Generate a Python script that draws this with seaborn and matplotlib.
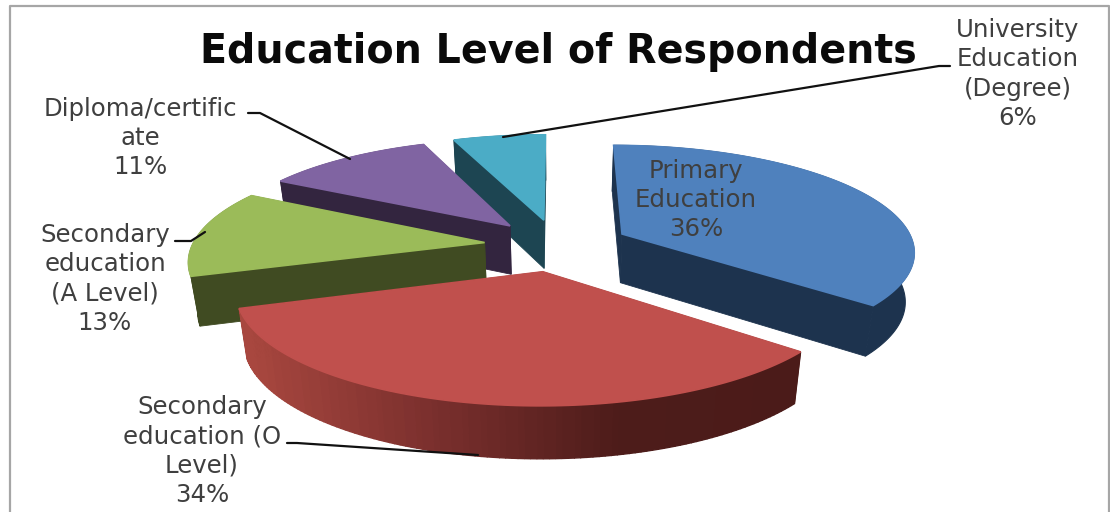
import numpy as np
import matplotlib
matplotlib.use("Agg")
import matplotlib.pyplot as plt
import seaborn as sns

# ---- data ----
categories = ["Primary\nEducation", "Secondary\neducation (O\nLevel)",
              "Secondary\neducation\n(A Level)", "Diploma/certific\nate",
              "University\nEducation\n(Degree)"]
shares = [36, 34, 13, 11, 6]
title = "Education Level of Respondents"

top_colors = ["#4f81bd", "#c0504d", "#9bbb59", "#8064a2", "#4bacc6"]
side_colors = ["#1d334e", "#4d1c1a", "#404b22", "#33253f", "#1d4552"]

# ---- 3-D pie view ----
CX, CY, RX, RY, PERSP = 557, 245, 292, 105, 0.15
EXPLODE, DEPTH, DEPTH_PERSP, SHRINK = 0.25, 49, 0.06, 0.975
DRAW_ORDER = [4, 3, 2, 0, 1]

sns.set_theme(style="white")
plt.rcParams["font.family"] = ["DejaVu Sans"]
fig = plt.figure(figsize=(11.1, 5.12), dpi=100)
ax = fig.add_axes([0, 0, 1, 1])
ax.set_xlim(0, 1110)
ax.set_ylim(512, 0)
ax.axis("off")


def project(gx, gy, low=False):
    w = 1 + PERSP * gy
    x = CX + RX * gx / w
    y = CY - RY * gy / w
    if low:
        x = CX + (x - CX) * SHRINK
        y = y + DEPTH / (1 + DEPTH_PERSP * gy)
    return x, y


def fill(gx, gy, color, low_mask=None, z=1, lw=1.0):
    xs, ys = [], []
    for i, (a, b) in enumerate(zip(gx, gy)):
        x, y = project(a, b, low=False if low_mask is None else low_mask[i])
        xs.append(x)
        ys.append(y)
    ax.fill(xs, ys, color=color, lw=lw, zorder=z)


edges = np.cumsum([0] + shares) / sum(shares) * 2 * np.pi
red_ramp = sns.blend_palette(["#a8473f", "#7a2f2d", "#4d1c1a", "#4b1b19"], 60)

for order, idx in enumerate(DRAW_ORDER):
    t0, t1 = edges[idx], edges[idx + 1]
    mid = (t0 + t1) / 2
    ox, oy = EXPLODE * np.sin(mid), EXPLODE * np.cos(mid)
    th = np.linspace(t0, t1, 121)
    ax_x, ax_y = ox + np.sin(th), oy + np.cos(th)
    z = 1 + order
    # radial walls
    for t in (t0, t1):
        gx = [ox, ox + np.sin(t), ox + np.sin(t), ox]
        gy = [oy, oy + np.cos(t), oy + np.cos(t), oy]
        fill(gx, gy, side_colors[idx], [False, False, True, True], z, lw=0.6)
    # outer wall
    if idx == 1:
        for j in range(len(th) - 1):
            gx = [ax_x[j], ax_x[j + 1], ax_x[j + 1], ax_x[j]]
            gy = [ax_y[j], ax_y[j + 1], ax_y[j + 1], ax_y[j]]
            px, _ = project(ax_x[j], ax_y[j])
            k = int(np.clip((px - 243) / (803 - 243), 0, 1) * 59)
            fill(gx, gy, red_ramp[k], [False, False, True, True], z, lw=1.0)
    else:
        gx = np.r_[ax_x, ax_x[::-1]]
        gy = np.r_[ax_y, ax_y[::-1]]
        mask = [False] * len(ax_x) + [True] * len(ax_x)
        fill(gx, gy, side_colors[idx], mask, z, lw=0.8)
    # top face
    fill(np.r_[ox, ax_x], np.r_[oy, ax_y], top_colors[idx], None, z + 0.5, lw=1.2)

# ---- frame ----
frame = "#a6a6a6"
ax.plot([10, 10, 1108.5, 1108.5], [512, 6, 6, 512], color=frame, lw=1.6, zorder=0)

# ---- text ----
ax.text(558, 52, title, ha="center", va="center", fontsize=28.5, fontweight="bold",
        color="#0a0a0a", zorder=20)

label_color = "#3f3f3f"
label_pos = [(696, 200), (202, 451), (105, 279), (140, 138), (1018, 74)]
for i, (cat, share, (lx, ly)) in enumerate(zip(categories, shares, label_pos)):
    ax.text(lx, ly, f"{cat}\n{share}%", ha="center", va="center", fontsize=17.6,
            color=label_color, linespacing=1.28, zorder=20)

# ---- leader lines ----
leaders = [
    ([950, 939, 503], [66, 66, 137]),
    ([248, 260, 350], [113, 113, 159]),
    ([175, 191, 205], [241, 241, 232]),
    ([287, 297, 478], [443, 443, 455]),
]
for lxs, lys in leaders:
    ax.plot(lxs, lys, color="#111111", lw=1.6, zorder=19)

fig.savefig("out.png", dpi=100, facecolor="white")
